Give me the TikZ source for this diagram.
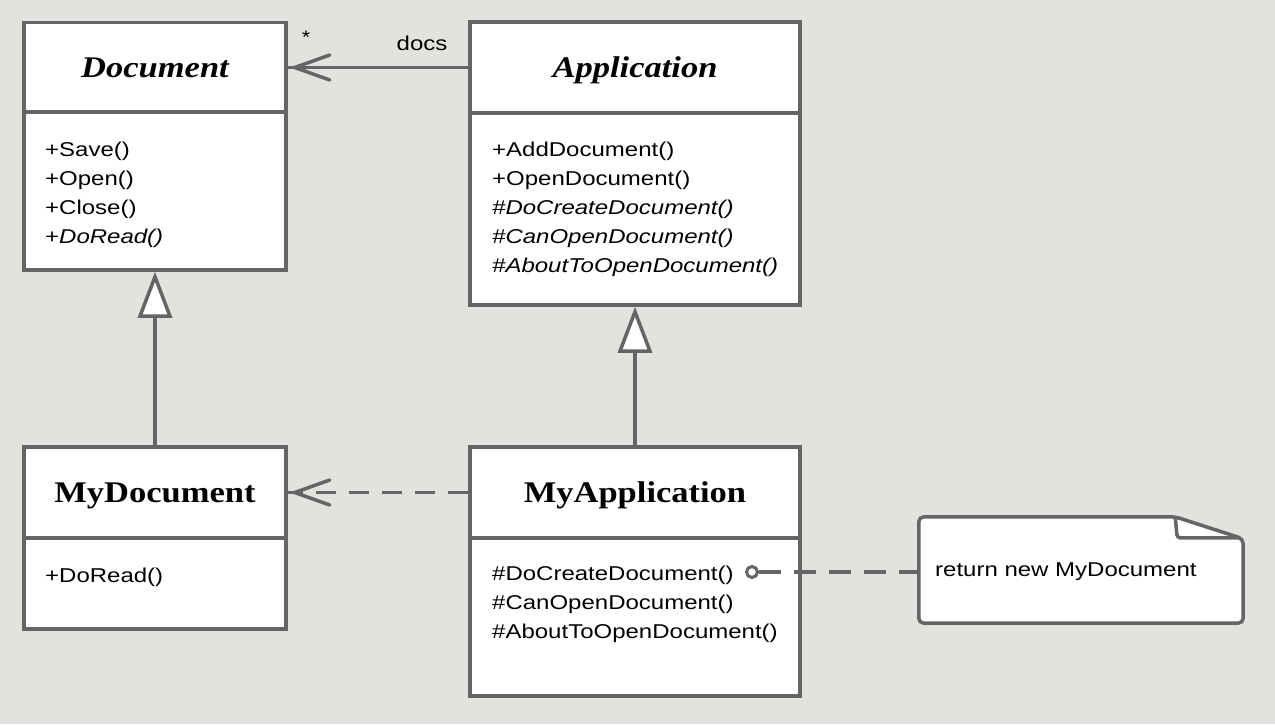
\documentclass[tikz,border=0pt]{standalone}
\usepackage{fontspec}
\newfontfamily\titlefont[FakeStretch=1.15]{Liberation Serif}
\newfontfamily\bodyfont[FakeStretch=1.2]{Liberation Sans}
\usetikzlibrary{arrows.meta,decorations.markings}

\definecolor{paper}{HTML}{E3E2DE}
\definecolor{ink}{HTML}{656565}

\tikzset{
  box/.style={draw=ink, fill=white, line width=3.5pt, inner sep=0pt},
  classname/.style={box, text height=24pt, text depth=4pt,
    font=\titlefont\fontsize{30}{34}\selectfont\bfseries},
  abstractname/.style={classname,
    font=\titlefont\fontsize{30}{34}\selectfont\bfseries\itshape},
  opslist/.style={anchor=west, align=left, inner sep=0pt,
    font=\bodyfont\fontsize{20}{29}\selectfont},
  link/.style={draw=ink, line width=3.5pt},
  gen/.style={link, -{Triangle[length=46pt, width=34pt, fill=white, line width=3.5pt]}},
  vhead/.style={postaction={decorate, decoration={markings,
    mark=at position 1 with {\draw[draw=ink, line width=3.5pt, solid,
      line cap=round, line join=miter]
      (-42pt,12.5pt) -- (-7pt,0pt) -- (-42pt,-12.5pt);}}}},
  assoc/.style={link, vhead},
  dep/.style={link, dash pattern=on 20pt off 13pt, vhead},
  notelink/.style={link, dash pattern=on 22pt off 13pt},
  lbl/.style={inner sep=0pt, font=\bodyfont\fontsize{20}{24}\selectfont},
}

\begin{document}
\begin{tikzpicture}[x=1pt, y=-1pt]
  \useasboundingbox (0,0) rectangle (1275,724);
  \fill[paper] (0,0) rectangle (1275,724);

  % Document (abstract)
  \node[abstractname, minimum width=262pt, minimum height=90pt] (doc) at (155,67.5) {Document};
  \node[box, minimum width=262pt, minimum height=158pt] (docops) at (155,191) {};
  \node[opslist] (docopstxt) at (45,194.5) {+Save()\\+Open()\\+Close()\\+\textit{DoRead()}};

  % Application (abstract)
  \node[abstractname, minimum width=330pt, minimum height=91pt] (app) at (635,67.5) {Application};
  \node[box, minimum width=330pt, minimum height=192pt] (appops) at (635,209) {};
  \node[opslist] (appopstxt) at (492,209) {+AddDocument()\\+OpenDocument()\\
    \textit{\#DoCreateDocument()}\\\textit{\#CanOpenDocument()}\\\textit{\#AboutToOpenDocument()}};

  % MyDocument
  \node[classname, minimum width=262pt, minimum height=91pt] (mydoc) at (155,492.5) {MyDocument};
  \node[box, minimum width=262pt, minimum height=91pt] (mydocops) at (155,583.5) {};
  \node[opslist] (mydocopstxt) at (45,577) {+DoRead()};

  % MyApplication
  \node[classname, minimum width=330pt, minimum height=91pt] (myapp) at (635,492.5) {MyApplication};
  \node[box, minimum width=330pt, minimum height=158pt] (myappops) at (635,617) {};
  \node[opslist] (myappopstxt) at (492,604) {\#DoCreateDocument()\\\#CanOpenDocument()\\\#AboutToOpenDocument()};

  % Note with folded corner
  \node[minimum width=324pt, minimum height=106pt, inner sep=0pt] (note) at (1081,570) {};
  \draw[box, rounded corners=5pt]
    (note.south west) -- (note.north west) -- ([xshift=-68pt]note.north east)
    -- ([yshift=-22pt]note.north east) -- (note.south east) -- cycle;
  \draw[link, rounded corners=3pt]
    ([xshift=-68pt]note.north east) -- ([xshift=-66pt, yshift=-21pt]note.north east)
    -- ([xshift=-3pt, yshift=-21pt]note.north east);
  \node[lbl, anchor=west] (notetxt) at (935,572) {return new MyDocument};

  % Connectors
  \draw[assoc] (app.west) -- (doc.east);
  \node[lbl, font=\bodyfont\fontsize{18}{22}\selectfont] (mult) at (306,37) {*};
  \node[lbl] (role) at (422,43) {docs};

  \draw[gen] (mydoc.north) -- (docops.south);
  \draw[gen] (myapp.north) -- (appops.south);
  \draw[dep] (myapp.west) -- (mydoc.east);

  \node[draw=ink, line width=3pt, fill=white, circle, minimum size=11pt, inner sep=0pt] (hook) at (752,572) {};
  \draw[notelink] (hook.east) -- (hook.east -| note.west);
\end{tikzpicture}
\end{document}
